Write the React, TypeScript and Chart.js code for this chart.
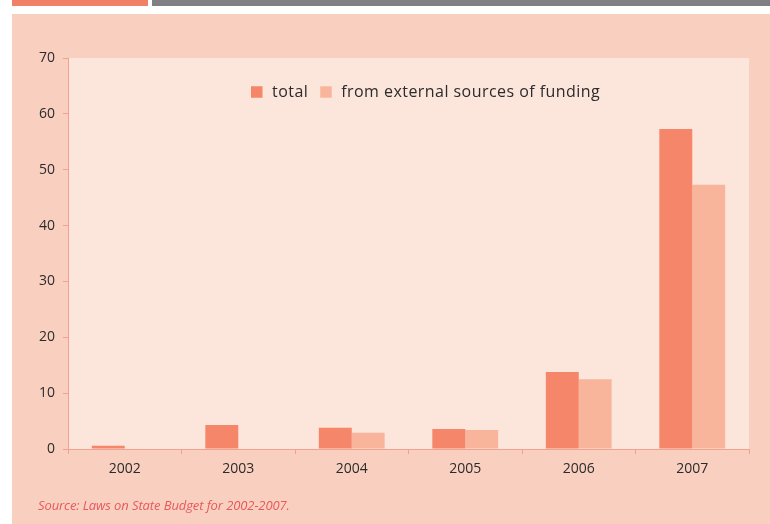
import React, { useEffect, useRef } from "react";
import { Chart, registerables } from "chart.js";

Chart.register(...registerables);

const years = ["2002", "2003", "2004", "2005", "2006", "2007"];
const totalValues = [0.6, 4.3, 3.8, 3.6, 13.8, 57.3];
const externalValues = [0, 0, 2.9, 3.4, 12.5, 47.3];
const seriesNames = ["total", "from external sources of funding"];
const yTicks = [0, 10, 20, 30, 40, 50, 60, 70];

const FONT = "'Open Sans', 'DejaVu Sans', sans-serif";

const areaBg = {
  id: "areaBg",
  beforeDraw(chart: any) {
    const { ctx, chartArea } = chart;
    ctx.save();
    ctx.fillStyle = "#FCE5DB";
    ctx.fillRect(chartArea.left, chartArea.top, chartArea.right - chartArea.left, chartArea.bottom - chartArea.top);
    ctx.restore();
  },
};

const innerLegend = {
  id: "innerLegend",
  afterDatasetsDraw(chart: any) {
    const { ctx, chartArea } = chart;
    ctx.save();
    ctx.font = `16px ${FONT}`;
    try { (ctx as any).letterSpacing = "0.45px"; } catch (e) {}
    ctx.textBaseline = "middle";
    ctx.textAlign = "left";
    let x = chartArea.left + 183;
    const y = chartArea.top + 34;
    const box = 11.5;
    chart.data.datasets.forEach((ds: any) => {
      ctx.fillStyle = ds.backgroundColor;
      ctx.fillRect(x, y - box / 2, box, box);
      x += box + 9.5;
      ctx.fillStyle = "#2b2b2b";
      ctx.fillText(ds.label, x, y);
      x += ctx.measureText(ds.label).width + 12;
    });
    ctx.restore();
  },
};

export default function App() {
  const ref = useRef<HTMLCanvasElement>(null);
  useEffect(() => {
    if (!ref.current) return;
    const chart = new Chart(ref.current, {
      type: "bar",
      data: {
        labels: years,
        datasets: [
          { label: seriesNames[0], data: totalValues, backgroundColor: "#F58669", categoryPercentage: 0.58, barPercentage: 1.0 },
          { label: seriesNames[1], data: externalValues, backgroundColor: "#F9B59C", categoryPercentage: 0.58, barPercentage: 1.0 },
        ],
      },
      options: {
        animation: false,
        responsive: false,
        maintainAspectRatio: false,
        layout: { padding: { left: 0, right: 21, top: 58, bottom: 0 } },
        plugins: { legend: { display: false }, tooltip: { enabled: false } },
        scales: {
          x: {
            afterFit: (s: any) => { s.height = 75; },
            grid: { drawOnChartArea: false, color: "#F4A08E", tickLength: 5, offset: true },
            border: { color: "#F4A08E", width: 1 },
            ticks: { color: "#2b2b2b", font: { family: FONT, size: 14 }, padding: 7 },
          },
          y: {
            min: 0,
            max: 70,
            afterFit: (s: any) => { s.width = 68; },
            afterBuildTicks: (s: any) => { s.ticks = yTicks.map((v) => ({ value: v })); },
            grid: { drawOnChartArea: false, color: "#F4A08E", tickLength: 5 },
            border: { color: "#F4A08E", width: 1 },
            ticks: { color: "#2b2b2b", font: { family: FONT, size: 14 }, padding: 8 },
          },
        },
      },
      plugins: [areaBg, innerLegend],
    });
    return () => chart.destroy();
  }, []);

  return (
    <div style={{ position: "absolute", left: 0, top: 0, width: 770, height: 524, background: "#ffffff", overflow: "hidden" }}>
      <div style={{ position: "absolute", left: 12, top: 0, width: 136, height: 6, background: "#F08068" }} />
      <div style={{ position: "absolute", left: 152, top: 0, width: 618, height: 6, background: "#7F7F84" }} />
      <div style={{ position: "absolute", left: 12, top: 14, width: 758, height: 510, background: "#F9D0C0" }} />
      <canvas ref={ref} width={770} height={524} style={{ position: "absolute", left: 0, top: 0, width: 770, height: 524 }} />
      <div
        style={{
          position: "absolute",
          left: 38,
          top: 496,
          fontFamily: FONT,
          fontStyle: "italic",
          fontSize: 13,
          color: "#E8585C",
          whiteSpace: "nowrap",
          letterSpacing: -0.1,
        }}
      >
        Source: Laws on State Budget for 2002-2007.
      </div>
    </div>
  );
}
